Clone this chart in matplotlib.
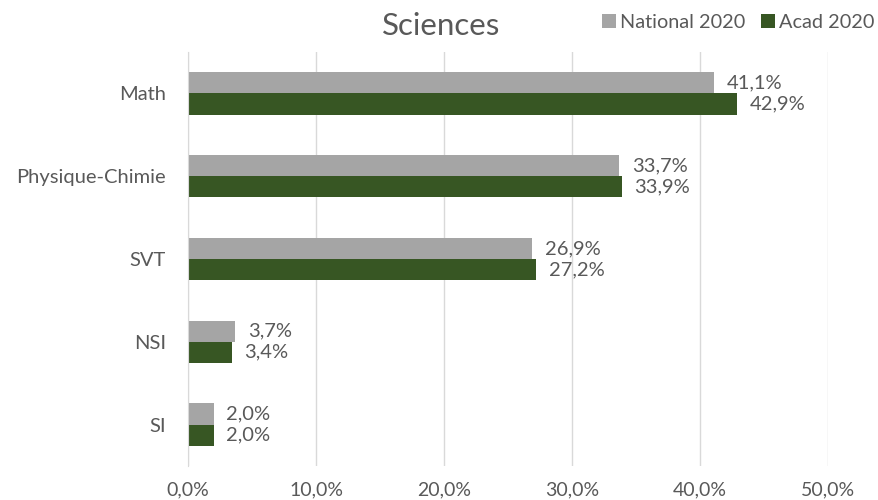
import matplotlib
matplotlib.use("Agg")
import matplotlib.pyplot as plt
import numpy as np

categories = ["Math", "Physique-Chimie", "SVT", "NSI", "SI"]
national_2020 = [41.1, 33.7, 26.9, 3.7, 2.0]
acad_2020 = [42.9, 33.9, 27.2, 3.4, 2.0]
xticks = [0, 10, 20, 30, 40, 50]

plt.rcParams['font.family'] = ['Lato', 'DejaVu Sans']
txt = '#595959'
gray = '#A5A5A5'
green = '#375623'

fig = plt.figure(figsize=(8.79, 5.0), dpi=100)
ax = fig.add_axes([0.2139, 0.068, 0.7281, 0.828])

y = np.arange(len(categories))
h = 0.255
ax.barh(y - h / 2, national_2020, height=h, color=gray, label='National 2020', zorder=3)
ax.barh(y + h / 2, acad_2020, height=h, color=green, label='Acad 2020', zorder=3)

for yi, v in zip(y, national_2020):
    ax.annotate(f"{v:.1f}%".replace('.', ','), (v, yi - h / 2), xytext=(9, 0),
                textcoords='offset points', va='center', ha='left', fontsize=14.5, color=txt)
for yi, v in zip(y, acad_2020):
    ax.annotate(f"{v:.1f}%".replace('.', ','), (v, yi + h / 2), xytext=(9, 0),
                textcoords='offset points', va='center', ha='left', fontsize=14.5, color=txt)

ax.set_ylim(len(categories) - 0.5, -0.5)
ax.set_yticks(y)
ax.set_yticklabels(categories, fontsize=14.5, color=txt)
ax.set_xlim(0, 50)
ax.set_xticks(xticks)
ax.set_xticklabels([f"{t:.1f}%".replace('.', ',') for t in xticks], fontsize=14, color=txt)
ax.tick_params(axis='both', length=0)
ax.tick_params(axis='x', pad=11)
ax.tick_params(axis='y', pad=16)
ax.grid(axis='x', color='#D9D9D9', linewidth=1, zorder=0)
for s in ['top', 'right', 'bottom']:
    ax.spines[s].set_visible(False)
ax.spines['left'].set_color('#D9D9D9')
ax.spines['left'].set_zorder(4)

fig.text(0.502, 0.948, "Sciences", ha='center', va='center', fontsize=22.5, color=txt)

leg = fig.legend(loc='center', bbox_to_anchor=(0.84, 0.955), ncol=2, frameon=False,
                 fontsize=14.3, handlelength=0.7, handleheight=0.7, handletextpad=0.2,
                 columnspacing=0.8, labelcolor=txt)

fig.savefig("out.png", dpi=100)
